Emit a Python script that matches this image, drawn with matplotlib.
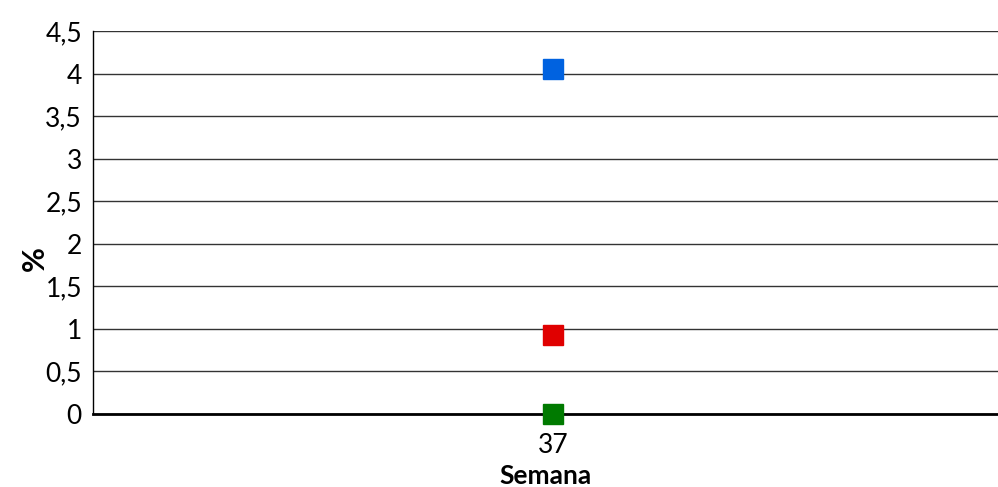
import matplotlib
matplotlib.use("Agg")
import matplotlib.pyplot as plt
from matplotlib.ticker import FuncFormatter

# Data
semanas = ["37"]
serie_azul = [4.05]
serie_roja = [0.93]
serie_verde = [0.0]

plt.rcParams["font.family"] = ["Lato", "DejaVu Sans"]

fig = plt.figure(figsize=(9.98, 4.87), dpi=100)
ax = fig.add_axes([0.0932, 0.1499, 0.9068, 0.7864])

x = list(range(len(semanas)))
ax.plot(x, serie_azul, ls="none", marker="s", ms=14.5, color="#0062e0", zorder=5, clip_on=False)
ax.plot(x, serie_roja, ls="none", marker="s", ms=14.5, color="#e00000", zorder=5, clip_on=False)
ax.plot(x, serie_verde, ls="none", marker="s", ms=14.5, color="#007a00", zorder=5, clip_on=False)

ax.set_ylim(0, 4.5)
ax.set_xlim(-0.508, 0.492)
ax.set_yticks([i * 0.5 for i in range(10)])
ax.yaxis.set_major_formatter(FuncFormatter(lambda v, p: f"{v:g}".replace(".", ",")))
ax.set_xticks(x)
ax.set_xticklabels(semanas)

ax.grid(axis="y", color="#333333", lw=1)
ax.set_axisbelow(True)
for s in ["top", "right"]:
    ax.spines[s].set_visible(False)
ax.spines["left"].set_color("#000000")
ax.spines["left"].set_linewidth(1)
ax.spines["bottom"].set_color("#000000")
ax.spines["bottom"].set_linewidth(2)

ax.tick_params(axis="y", length=0, labelsize=19, pad=8)
ax.tick_params(axis="x", length=0, labelsize=19, pad=14)

ax.set_xlabel("Semana", fontsize=19, fontweight="bold", labelpad=4)
fig.text(35 / 998, 1 - 259 / 487, "%", rotation=90, ha="center", va="center",
         fontsize=22, fontweight="bold")

fig.savefig("out.png", dpi=100)
